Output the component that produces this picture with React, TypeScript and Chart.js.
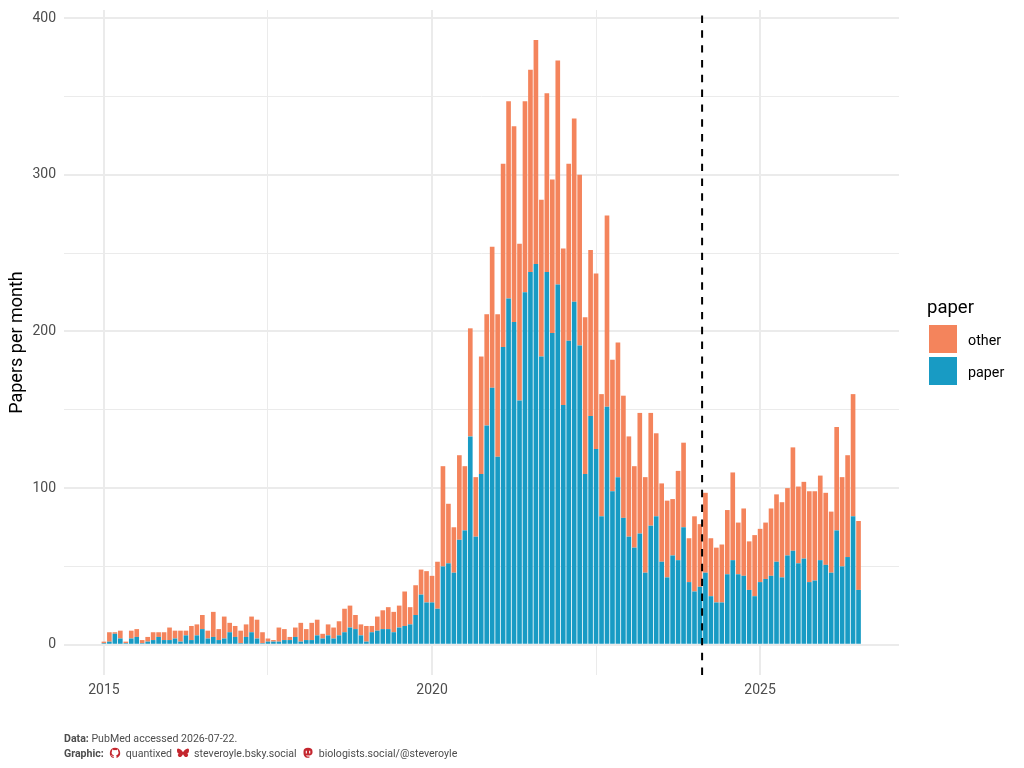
import { useEffect, useRef } from "react";
import Chart from "chart.js/auto";

// monthly counts, Jan 2015 to Jul 2026
const paperCounts = [
  1, 2, 7, 4, 1, 4, 5, 1, 2, 3, 5, 3,
  3, 4, 2, 6, 3, 6, 10, 4, 5, 3, 4, 8,
  5, 1, 5, 8, 4, 1, 2, 2, 2, 3, 3, 5,
  2, 3, 3, 6, 4, 6, 4, 6, 8, 11, 10, 6,
  2, 8, 9, 10, 10, 8, 11, 12, 13, 19, 32, 27,
  27, 23, 50, 52, 46, 67, 73, 133, 69, 109, 140, 164,
  120, 190, 221, 206, 156, 225, 238, 243, 184, 238, 199, 230,
  153, 194, 219, 191, 109, 146, 125, 82, 152, 98, 107, 81,
  69, 62, 71, 46, 76, 82, 53, 43, 57, 54, 75, 40,
  34, 37, 46, 31, 27, 27, 45, 54, 45, 44, 35, 31,
  40, 42, 44, 53, 43, 57, 60, 52, 55, 40, 41, 54,
  51, 46, 73, 50, 56, 82, 35,
];
const totalCounts = [
  2, 8, 8, 9, 2, 9, 10, 3, 5, 8, 8, 8,
  11, 9, 9, 9, 12, 13, 19, 9, 21, 10, 18, 14,
  12, 9, 13, 18, 16, 8, 4, 3, 11, 10, 5, 11,
  14, 10, 14, 16, 7, 13, 11, 15, 23, 25, 19, 13,
  12, 12, 18, 22, 24, 21, 25, 34, 24, 38, 48, 47,
  44, 53, 114, 90, 75, 121, 114, 202, 107, 184, 211, 254,
  211, 307, 347, 331, 256, 347, 367, 386, 284, 352, 297, 373,
  253, 307, 336, 300, 209, 252, 237, 160, 274, 182, 193, 159,
  133, 114, 148, 107, 148, 135, 103, 92, 93, 111, 129, 68,
  82, 77, 97, 68, 62, 64, 86, 110, 78, 87, 66, 70,
  74, 78, 87, 96, 91, 100, 126, 101, 104, 98, 98, 108,
  97, 85, 139, 107, 121, 160, 79,
];
const otherCounts = totalCounts.map((t, i) => t - paperCounts[i]);
const months = paperCounts.map((_, i) => 2015 + i / 12);

const yearTicks = [2015, 2017.5, 2020, 2022.5, 2025];
const countTicks = [0, 50, 100, 150, 200, 250, 300, 350, 400];
const cutoffDate = 2024.116;

const PAPER_COLOR = "#189BC4";
const OTHER_COLOR = "#F4845C";
const GRID_COLOR = "#ebebeb";

const cutoffLine = {
  id: "cutoffLine",
  afterDatasetsDraw(chart: any) {
    const { ctx, chartArea, scales } = chart;
    const x = scales.x.getPixelForValue(cutoffDate);
    ctx.save();
    ctx.strokeStyle = "#000";
    ctx.lineWidth = 2;
    ctx.setLineDash([7.4, 7.42]);
    ctx.beginPath();
    ctx.moveTo(x, chartArea.bottom);
    ctx.lineTo(x, chartArea.top);
    ctx.stroke();
    ctx.restore();
  },
};

const textStyle: React.CSSProperties = { position: "absolute", whiteSpace: "nowrap", fontFamily: "Roboto", lineHeight: 1 };
const captionStyle: React.CSSProperties = { ...textStyle, fontSize: 10.6, color: "#4d4d4d", left: 64 };

function Icon({ color, d }: { color: string; d: string }) {
  return (
    <svg width="12" height="12" viewBox="0 0 16 16" style={{ verticalAlign: "-2px", margin: "0 5px" }}>
      <path d={d} fill={color} />
    </svg>
  );
}

const githubIcon = "M8 1a7 7 0 0 0-2.2 13.6c.4.1.5-.2.5-.4v-1.4c-2 .4-2.4-.9-2.4-.9-.3-.8-.8-1-.8-1-.6-.4 0-.4 0-.4.7 0 1.1.7 1.1.7.6 1.1 1.7.8 2.1.6 0-.5.2-.8.4-1-1.6-.2-3.2-.8-3.2-3.5 0-.8.3-1.4.7-1.9 0-.2-.3-.9.1-1.9 0 0 .6-.2 2 .7a7 7 0 0 1 3.6 0c1.4-.9 2-.7 2-.7.4 1 .1 1.7.1 1.9.4.5.7 1.1.7 1.9 0 2.7-1.6 3.3-3.2 3.5.3.2.5.7.5 1.3v2c0 .2.1.5.5.4A7 7 0 0 0 8 1z";
const butterflyIcon = "M8 7C7 5 4 2 1.5 2 .5 2 0 3 0 4.5c0 1.5.7 4 2.5 4.5C1 9.5.5 11 2 12.5c1.5 1.5 4 1 6-3 2 4 4.500 4.500 6 3 1.500-1.500 1-3-.500-3.500C15.300 8.500 16 6 16 4.500 16 3 15.500 2 14.500 2 12 2 9 5 8 7z";
const mastodonIcon = "M8 1C4 1 2 2.500 2 6c0 3 0 6 2.500 7.500 1.500.8 4 1 5.500.5v-1.500c-2 .5-4.500.2-4.500-1.500 3 .7 8.500.5 8.500-3.500V6c0-3.500-2-5-6-5zM5 5h1.500v3.500H5zM9.500 5H11v3.500H9.500z";

export default function App() {
  const canvasRef = useRef<HTMLCanvasElement>(null);

  useEffect(() => {
    if (!canvasRef.current) return;
    document.body.style.margin = "0";

    const chart = new Chart(canvasRef.current, {
      type: "bar",
      data: {
        datasets: [
          {
            label: "paper",
            data: months.map((m, i) => ({ x: m, y: paperCounts[i] })),
            backgroundColor: PAPER_COLOR,
            barPercentage: 0.85,
            categoryPercentage: 1,
          },
          {
            label: "other",
            data: months.map((m, i) => ({ x: m, y: otherCounts[i] })),
            backgroundColor: OTHER_COLOR,
            barPercentage: 0.85,
            categoryPercentage: 1,
          },
        ],
      },
      options: {
        responsive: false,
        animation: false,
        layout: { padding: { top: 10, right: 125, bottom: 0, left: 0 } },
        plugins: { legend: { display: false }, tooltip: { enabled: false } },
        scales: {
          x: {
            type: "linear",
            stacked: true,
            offset: false,
            min: 2015 - 7.3 / 12,
            max: 2015 + 145.4 / 12,
            afterBuildTicks: (scale: any) => {
              scale.ticks = yearTicks.map((value) => ({ value }));
            },
            afterFit: (scale: any) => {
              scale.height = 93;
            },
            border: { display: false },
            grid: {
              offset: false,
              color: GRID_COLOR,
              lineWidth: (c: any) => (c.tick && Number.isInteger(c.tick.value) ? 2 : 1),
              drawTicks: false,
            },
            ticks: {
              autoSkip: false,
              maxRotation: 0,
              padding: 7,
              color: "#4d4d4d",
              font: { family: "Roboto", size: 14 },
              callback: (v: any) => (Number.isInteger(v) ? String(v) : ""),
            },
          },
          y: {
            stacked: true,
            min: -19.3,
            max: 405.2,
            afterBuildTicks: (scale: any) => {
              scale.ticks = countTicks.map((value) => ({ value }));
            },
            afterFit: (scale: any) => {
              scale.width = 64;
              // the half-height of the tick labels must not push the panel down
              scale.paddingTop = 0;
              scale.paddingBottom = 0;
            },
            border: { display: false },
            grid: {
              color: GRID_COLOR,
              lineWidth: (c: any) => (c.tick && c.tick.value % 100 === 0 ? 2 : 1),
              drawTicks: false,
            },
            title: {
              display: true,
              text: "Papers per month",
              color: "#000",
              font: { family: "Roboto", size: 18 },
              padding: { top: 7, bottom: 0 },
            },
            ticks: {
              autoSkip: false,
              padding: 8,
              color: "#4d4d4d",
              font: { family: "Roboto", size: 14 },
              callback: (v: any) => (v % 100 === 0 ? String(v) : ""),
            },
          },
        },
      },
      plugins: [cutoffLine],
    });

    return () => {
      chart.destroy();
    };
  }, []);

  return (
    <div style={{ position: "relative", width: 1024, height: 768, background: "#fff", overflow: "hidden" }}>
      <canvas ref={canvasRef} width={1024} height={768} style={{ display: "block" }} />
      <div style={{ ...textStyle, left: 927, top: 298, fontSize: 18.5, color: "#000" }}>paper</div>
      <div style={{ position: "absolute", left: 929, top: 325, width: 28, height: 28, background: OTHER_COLOR }} />
      <div style={{ position: "absolute", left: 929, top: 357, width: 28, height: 28, background: PAPER_COLOR }} />
      <div style={{ ...textStyle, left: 968, top: 333, fontSize: 14.3, color: "#000" }}>other</div>
      <div style={{ ...textStyle, left: 968, top: 365, fontSize: 14.3, color: "#000" }}>paper</div>
      <div style={{ ...captionStyle, top: 734 }}>
        <b>Data:</b> PubMed accessed 2026-07-22.
      </div>
      <div style={{ ...captionStyle, top: 747 }}>
        <b>Graphic:</b>
        <Icon color="#c4262e" d={githubIcon} />
        quantixed
        <Icon color="#c4262e" d={butterflyIcon} />
        steveroyle.bsky.social
        <Icon color="#c4262e" d={mastodonIcon} />
        biologists.social/@steveroyle
      </div>
    </div>
  );
}
